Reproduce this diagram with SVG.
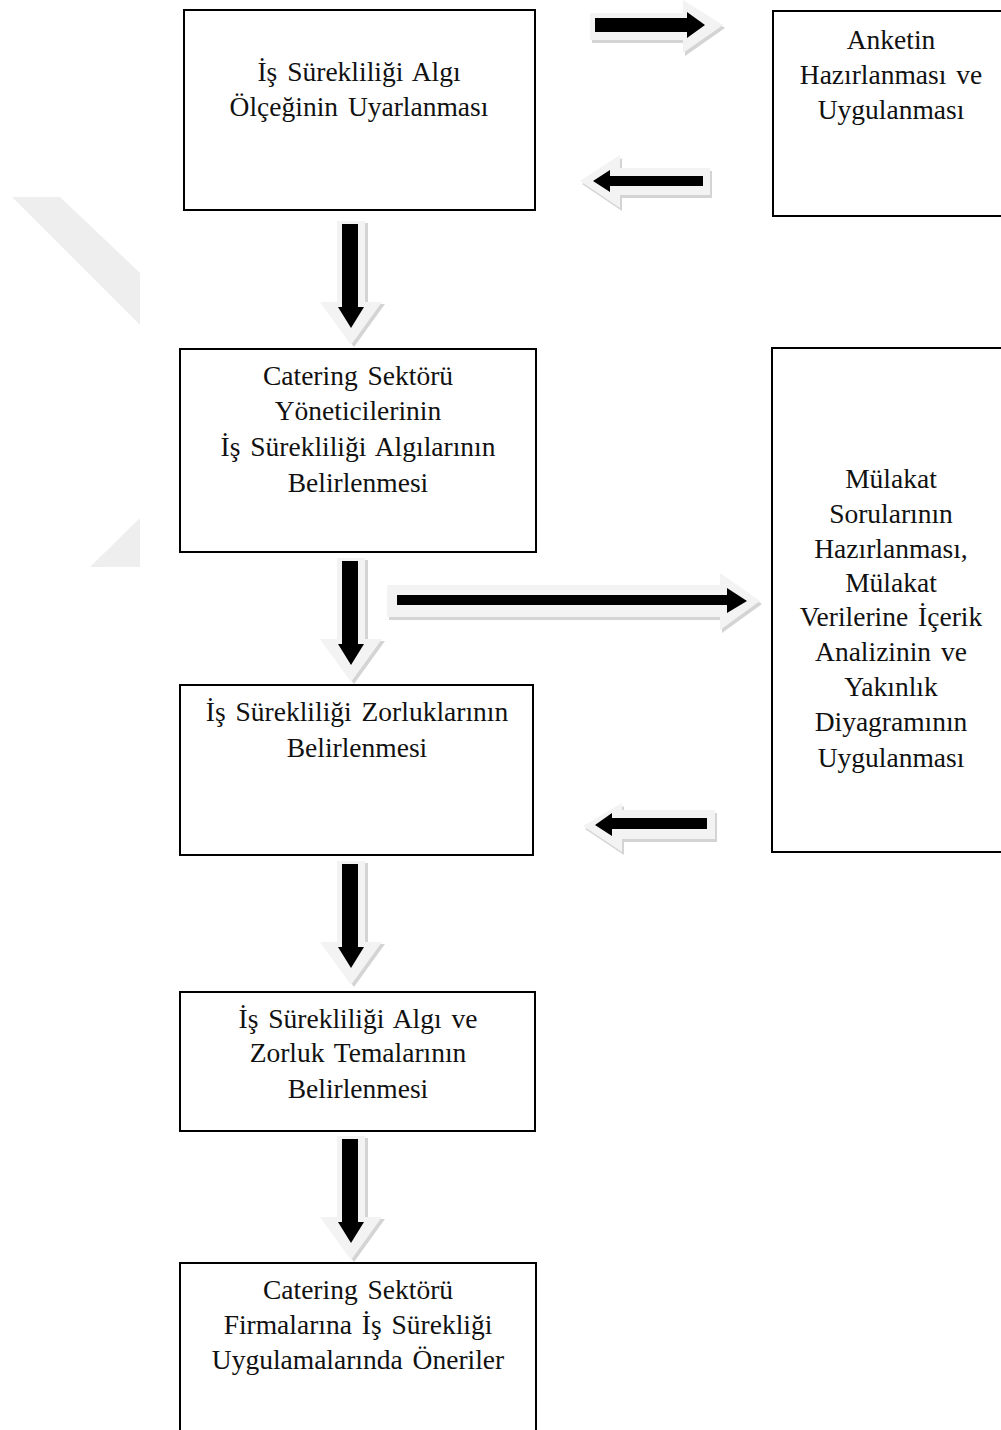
<svg xmlns="http://www.w3.org/2000/svg" width="1001" height="1430" viewBox="0 0 1001 1430">
<style>
.box{fill:#fff;stroke:#000;stroke-width:2}
.t{font-family:"Liberation Serif","Times New Roman",serif;font-size:27.5px;word-spacing:3px;fill:#111;text-anchor:middle}
.halo{fill:#f3f3f3}
.shadow{fill:#d4d4d4}
.blk{fill:#000}
.wm{fill:#eeeeee}
</style>
<rect width="1001" height="1430" fill="#fff"/>
<g id="watermark">
<polygon class="wm" points="12,197 60,197 140,273 140,325"/>
<polygon class="wm" points="140,518 140,567 90,567"/>
</g>
<g id="connectors">
<g id="a-right-top">
<polygon class="shadow" transform="translate(2,3)" points="590,13 683,13 683,0 723,25 683,53 683,40 590,40"/>
<polygon class="halo" points="590,13 683,13 683,0 723,25 683,53 683,40 590,40"/>
<polygon class="blk" points="595,18 687,18 687,12 705,25 687,38 687,32 595,32"/>
</g>
<g id="a-left-top">
<polygon class="shadow" transform="translate(2,3)" points="710,168 620,168 620,155 580,181 620,208 620,195 710,195"/>
<polygon class="halo" points="710,168 620,168 620,155 580,181 620,208 620,195 710,195"/>
<polygon class="blk" points="703,176 610,176 610,170 593,181 610,192 610,186 703,186"/>
</g>
<g id="a-right-mid">
<polygon class="shadow" transform="translate(2,3)" points="387,585 720,585 720,573 760,601 720,630 720,617 387,617"/>
<polygon class="halo" points="387,585 720,585 720,573 760,601 720,630 720,617 387,617"/>
<polygon class="blk" points="397,595 727,595 727,588 747,601 727,613 727,605 397,605"/>
</g>
<g id="a-left-bottom">
<polygon class="shadow" transform="translate(2,3)" points="715,810 622,810 622,803 583,826 622,852 622,839 715,839"/>
<polygon class="halo" points="715,810 622,810 622,803 583,826 622,852 622,839 715,839"/>
<polygon class="blk" points="707,818 612,818 612,813 595,825 612,836 612,829 707,829"/>
</g>
<g id="a-down-1">
<polygon class="shadow" transform="translate(3,2)" points="337,221 365,221 365,302 382,302 351,345 320,302 337,302"/>
<polygon class="halo" points="337,221 365,221 365,302 382,302 351,345 320,302 337,302"/>
<polygon class="blk" points="342,224 358,224 358,307 364,307 351,328 338,307 342,307"/>
</g>
<g id="a-down-2" transform="translate(0,337)">
<polygon class="shadow" transform="translate(3,2)" points="337,221 365,221 365,302 382,302 351,345 320,302 337,302"/>
<polygon class="halo" points="337,221 365,221 365,302 382,302 351,345 320,302 337,302"/>
<polygon class="blk" points="342,224 358,224 358,307 364,307 351,328 338,307 342,307"/>
</g>
<g id="a-down-3" transform="translate(0,640)">
<polygon class="shadow" transform="translate(3,2)" points="337,221 365,221 365,302 382,302 351,345 320,302 337,302"/>
<polygon class="halo" points="337,221 365,221 365,302 382,302 351,345 320,302 337,302"/>
<polygon class="blk" points="342,224 358,224 358,307 364,307 351,328 338,307 342,307"/>
</g>
<g id="a-down-4" transform="translate(0,915)">
<polygon class="shadow" transform="translate(3,2)" points="337,221 365,221 365,302 382,302 351,345 320,302 337,302"/>
<polygon class="halo" points="337,221 365,221 365,302 382,302 351,345 320,302 337,302"/>
<polygon class="blk" points="342,224 358,224 358,307 364,307 351,328 338,307 342,307"/>
</g>
</g>
<g id="n1">
<rect class="box" x="184" y="10" width="351" height="200"/>
<text class="t" x="359" y="81">İş Sürekliliği Algı</text>
<text class="t" x="359" y="116">Ölçeğinin Uyarlanması</text>
</g>
<g id="n2">
<rect class="box" x="773" y="11" width="240" height="205"/>
<text class="t" x="891" y="49">Anketin</text>
<text class="t" x="891" y="84">Hazırlanması ve</text>
<text class="t" x="891" y="119">Uygulanması</text>
</g>
<g id="n3">
<rect class="box" x="180" y="349" width="356" height="203"/>
<text class="t" x="358" y="385">Catering Sektörü</text>
<text class="t" x="358" y="420">Yöneticilerinin</text>
<text class="t" x="358" y="456">İş Sürekliliği Algılarının</text>
<text class="t" x="358" y="492">Belirlenmesi</text>
</g>
<g id="n4">
<rect class="box" x="772" y="348" width="240" height="504"/>
<text class="t" x="891" y="488">Mülakat</text>
<text class="t" x="891" y="523">Sorularının</text>
<text class="t" x="891" y="558">Hazırlanması,</text>
<text class="t" x="891" y="592">Mülakat</text>
<text class="t" x="891" y="626">Verilerine İçerik</text>
<text class="t" x="891" y="661">Analizinin ve</text>
<text class="t" x="891" y="696">Yakınlık</text>
<text class="t" x="891" y="731">Diyagramının</text>
<text class="t" x="891" y="767">Uygulanması</text>
</g>
<g id="n5">
<rect class="box" x="180" y="685" width="353" height="170"/>
<text class="t" x="357" y="721">İş Sürekliliği Zorluklarının</text>
<text class="t" x="357" y="757">Belirlenmesi</text>
</g>
<g id="n6">
<rect class="box" x="180" y="992" width="355" height="139"/>
<text class="t" x="358" y="1028">İş Sürekliliği Algı ve</text>
<text class="t" x="358" y="1062">Zorluk Temalarının</text>
<text class="t" x="358" y="1098">Belirlenmesi</text>
</g>
<g id="n7">
<rect class="box" x="180" y="1263" width="356" height="180"/>
<text class="t" x="358" y="1299">Catering Sektörü</text>
<text class="t" x="358" y="1334">Firmalarına İş Sürekliği</text>
<text class="t" x="358" y="1369">Uygulamalarında Öneriler</text>
</g>
</svg>
